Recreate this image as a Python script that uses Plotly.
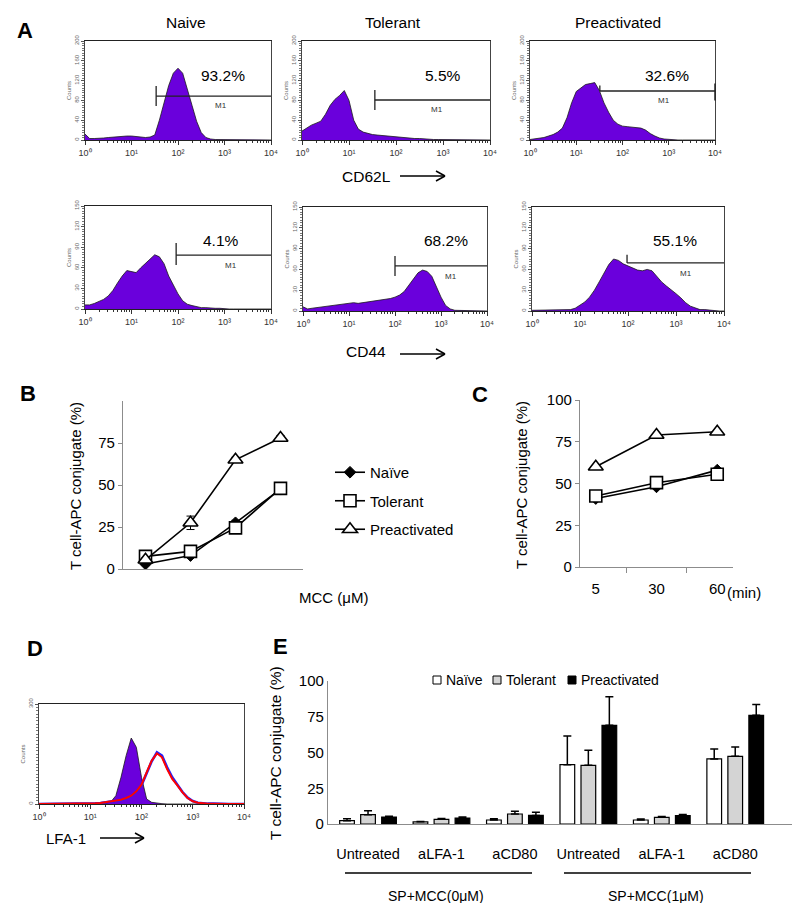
import plotly.graph_objects as go

W, H = 800, 903
FONT = "Arial, Liberation Sans, sans-serif"

# ---------------- data ----------------
# fluorescence intensity grid of the cytometry histograms (log10 steps of 0.1)
FL = [1.0, 1.26, 1.58, 2.0, 2.51, 3.16, 3.98, 5.01, 6.31, 7.94,
      10.0, 12.6, 15.8, 20.0, 25.1, 31.6, 39.8, 50.1, 63.1, 79.4,
      100, 126, 158, 200, 251, 316, 398, 501, 631, 794,
      1000, 1259, 1585, 1995, 2512, 3162, 3981, 5012, 6310, 7943, 10000]

CD62L_NAIVE = [12, 3, 3, 3, 4, 5, 6, 6, 7, 8, 8, 7, 6, 5, 6, 10, 40, 75, 110, 135,
               145, 135, 105, 70, 38, 15, 5, 2, 1, 1, 1, 0, 0, 0, 0, 0, 0, 0, 0, 0, 0]
CD62L_TOL = [18, 25, 30, 34, 38, 52, 70, 82, 90, 100, 80, 40, 22, 16, 13, 11, 10, 9, 8, 7,
             6, 5, 5, 4, 3, 3, 2, 2, 1, 1, 1, 1, 0, 0, 0, 0, 0, 0, 0, 0, 0]
CD62L_PRE = [1, 2, 3, 5, 8, 11, 16, 24, 45, 75, 98, 106, 112, 114, 116, 100, 75, 56, 40, 32,
             28, 27, 26, 24, 24, 20, 13, 8, 4, 2, 1, 1, 0, 0, 0, 0, 0, 0, 0, 0, 0]
CD44_NAIVE = [6, 6, 8, 11, 14, 19, 27, 38, 48, 56, 54, 53, 60, 66, 72, 79, 76, 66, 48, 34,
              22, 12, 7, 5, 3, 2, 2, 1, 1, 1, 0, 0, 0, 0, 0, 0, 0, 0, 0, 0, 0]
CD44_TOL = [6, 3, 4, 5, 6, 7, 8, 9, 10, 11, 12, 12, 11, 12, 13, 14, 15, 15, 16, 18,
            20, 23, 28, 37, 47, 55, 59, 57, 50, 35, 20, 8, 3, 1, 1, 0, 0, 0, 0, 0, 0]
CD44_PRE = [1, 1, 1, 1, 1, 1, 2, 2, 2, 4, 8, 13, 20, 30, 42, 55, 67, 75, 73, 68,
            65, 61, 59, 58, 60, 58, 50, 42, 36, 31, 25, 19, 12, 7, 4, 2, 2, 1, 1, 0, 0]
LFA1_ISO = [0, 0, 0, 0, 0, 0, 0, 0, 0, 0, 0, 0, 0, 2, 6, 25, 80, 145, 198, 170,
            80, 15, 5, 2, 1, 0, 0, 0, 0, 0, 0, 0, 0, 0, 0, 0, 0, 0, 0, 0, 0]
LFA1_BLUE = [0, 0, 0, 0, 0, 0, 0, 0, 0, 0, 1, 2, 3, 5, 7, 10, 12, 17, 24, 37,
             56, 92, 128, 155, 145, 110, 80, 58, 36, 19, 9, 4, 2, 1, 1, 0, 0, 0, 0, 0, 0]
LFA1_RED = [0, 0, 0, 0, 0, 0, 0, 0, 0, 0, 1, 2, 3, 5, 7, 10, 13, 18, 25, 38,
            58, 95, 130, 152, 140, 105, 75, 56, 35, 18, 8, 4, 2, 1, 1, 0, 0, 0, 0, 0, 0]

LOG_TICKS = [1, 10, 100, 1000, 10000]
LOG_TICK_TEXT = ["10⁰", "10¹", "10²", "10³", "10⁴"]

HIST_TITLES = ["Naive", "Tolerant", "Preactivated"]
PCT_CD62L = ["93.2%", "5.5%", "32.6%"]
PCT_CD44 = ["4.1%", "68.2%", "55.1%"]

# panel B: conjugates vs MCC dose (dose levels 1..4, concentrations not labelled)
MCC_LEVEL = [1, 2, 3, 4]
B_NAIVE = [3, 8, 27.5, 47.5]
B_NAIVE_ERR = [1, 1, 1.5, 2]
B_TOL = [7.5, 10.5, 24.5, 48]
B_TOL_ERR = [1, 1, 1.5, 2]
B_PRE = [5.5, 27.5, 65, 78]
B_PRE_ERR = [1, 4, 1.5, 1.5]

# panel C: conjugates vs time
TIME_MIN = ["5", "30", "60"]
C_NAIVE = [41, 48, 58]
C_TOL = [42.5, 50.5, 55.5]
C_PRE = [60, 79, 81]

# panel E
E_GROUPS = ["Untreated", "aLFA-1", "aCD80", "Untreated", "aLFA-1", "aCD80"]
E_POS = [0, 1, 2, 3, 4, 5]
E_NAIVE = [2.3, 1.5, 2.8, 41.5, 2.8, 45.5]
E_NAIVE_ERR = [1.4, 0.3, 0.8, 20, 0.7, 7]
E_TOL = [6.5, 3.3, 7, 41, 4.7, 47.3]
E_TOL_ERR = [2.8, 0.6, 2, 10.5, 0.6, 6.5]
E_PRE = [4.9, 4.2, 6, 69, 5.8, 76]
E_PRE_ERR = [0.5, 0.7, 2.2, 20, 0.8, 7.5]
E_NOERR = [0, 0, 0, 0, 0, 0]

# ---------------- helpers ----------------
def px(x):
    return x / W


def py(y):
    return 1 - y / H


PURPLE = "#6a00dc"
MINOR_LOG = [m * 10 ** d for d in range(4) for m in range(2, 10)]

fig = go.Figure()
layout = dict(width=W, height=H, margin=dict(l=0, r=0, t=0, b=0, autoexpand=False),
              paper_bgcolor="white", plot_bgcolor="white",
              font=dict(family=FONT, color="black"),
              bargap=0.142, bargroupgap=0.3)
annotations = []
shapes = []


def ann(text, x, y, size=15, color="black", **kw):
    d = dict(text=text, x=px(x), y=py(y), xref="paper", yref="paper",
             showarrow=False, font=dict(size=size, family=FONT, color=color),
             xanchor="center", yanchor="middle")
    d.update(kw)
    annotations.append(d)


def line(x0, y0, x1, y1, width=1.3, color="black"):
    shapes.append(dict(type="line", xref="paper", yref="paper",
                       x0=px(x0), y0=py(y0), x1=px(x1), y1=py(y1),
                       line=dict(color=color, width=width)))


def arrow(x0, x1, y):
    line(x0, y, x1, y, 1.5)
    line(x1 - 9, y - 5, x1, y, 1.5)
    line(x1 - 9, y + 5, x1, y, 1.5)


def log_xaxis(x0, x1, anchor):
    return dict(
        type="log", range=[0, 4], domain=[px(x0), px(x1)], anchor=anchor,
        showline=True, mirror=True, linecolor="#222", linewidth=1.2, automargin=False,
        ticks="outside", ticklen=4, tickcolor="#333",
        tickvals=LOG_TICKS, ticktext=LOG_TICK_TEXT,
        tickfont=dict(size=9, color="#333"),
        minor=dict(tickvals=MINOR_LOG, ticks="outside", ticklen=2, tickcolor="#333"),
        showgrid=False, zeroline=False, fixedrange=True)


def count_yaxis(y0, y1, anchor, ymax, yticks, yminor):
    return dict(
        range=[0, ymax], domain=[py(y1), py(y0)], anchor=anchor,
        showline=True, mirror=True, linecolor="#444", linewidth=1, automargin=False,
        ticks="outside", ticklen=3, tickcolor="#555", tickvals=yticks, tickangle=-90,
        tickfont=dict(size=6, color="#666"),
        title=dict(text="Counts", font=dict(size=6, color="#666"), standoff=1),
        minor=dict(dtick=yminor, ticks="outside", ticklen=2, tickcolor="#777"),
        showgrid=False, zeroline=False, fixedrange=True)


def axref(i):
    return ("x" if i == 1 else "x%d" % i), ("y" if i == 1 else "y%d" % i)


# ---------------- panel A ----------------
HIST = [
    (CD62L_NAIVE, 77, 263, 33, 132, 200),
    (CD62L_TOL, 294, 482, 33, 132, 200),
    (CD62L_PRE, 522, 707, 33, 132, 200),
    (CD44_NAIVE, 77, 263, 198, 301, 150),
    (CD44_TOL, 295, 479, 199, 303, 150),
    (CD44_PRE, 524, 716, 199, 303, 150),
]
for k, (counts, x0, x1, y0, y1, ymax) in enumerate(HIST, start=1):
    yt = [0, 40, 80, 120, 160, 200] if ymax == 200 else [0, 30, 60, 90, 120, 150]
    xa, ya = axref(k)
    suffix = "" if k == 1 else str(k)
    layout["xaxis" + suffix] = log_xaxis(x0, x1, ya)
    layout["yaxis" + suffix] = count_yaxis(y0, y1, xa, ymax, yt, ymax / 40)
    fig.add_trace(go.Scatter(x=FL, y=counts, xaxis=xa, yaxis=ya, mode="lines",
                             fill="tozeroy", fillcolor=PURPLE,
                             line=dict(color="#1a1a1a", width=0.8),
                             showlegend=False, hoverinfo="skip"))

# gates (log position of gate start, y fraction, left tick span, optional right tick span)
GATES = [
    (1, 1.53, 0.444, (0.343, 0.545), None),
    (2, 1.55, 0.404, (0.303, 0.505), None),
    (3, 1.51, 0.495, (0.495, 0.55), (0.40, 0.57)),
    (4, 1.96, 0.524, (0.427, 0.64), None),
    (5, 2.00, 0.433, (0.337, 0.529), None),
    (6, 1.98, 0.462, (0.462, 0.54), None),
]
for k, lg, yf, lt, rt in GATES:
    xa, ya = axref(k)
    xr, yr = xa + " domain", ya + " domain"
    shapes.append(dict(type="line", xref=xr, yref=yr, x0=lg / 4, x1=1, y0=yf, y1=yf,
                       line=dict(color="#222", width=1.3)))
    shapes.append(dict(type="line", xref=xr, yref=yr, x0=lg / 4, x1=lg / 4, y0=lt[0], y1=lt[1],
                       line=dict(color="#222", width=1.3)))
    if rt:
        shapes.append(dict(type="line", xref=xr, yref=yr, x0=1, x1=1, y0=rt[0], y1=rt[1],
                           line=dict(color="#222", width=1.5)))

for t, xc in zip(HIST_TITLES, [178, 385, 610]):
    ann(t, xc, 14, 15.5)
for t, (xc, yc) in zip(PCT_CD62L, [(215, 68), (435, 68), (659, 67)]):
    ann(t, xc, yc, 15.5)
for t, (xc, yc) in zip(PCT_CD44, [(213, 233), (438, 233), (667, 233)]):
    ann(t, xc, yc, 15.5)
for (xc, yc) in [(213, 98), (429, 102), (656, 92), (223, 257), (443, 268), (678, 265)]:
    ann("M1", xc, yc, 8, color="#333")

ann("CD62L", 358, 168, 15.5)
arrow(392, 437, 168)
ann("CD44", 358, 343, 15.5)
arrow(392, 437, 346)

ann("<b>A</b>", 17, 22, 22)
ann("<b>B</b>", 20, 385, 22)
ann("<b>C</b>", 472, 386, 22)
ann("<b>D</b>", 27, 640, 22)
ann("<b>E</b>", 272, 638, 22)

# ---------------- panel B ----------------
GRAY_AX = "#8c8c8c"
layout["xaxis7"] = dict(domain=[px(115), px(295)], anchor="y7", range=[0.5, 4.5], automargin=False,
                        showline=True, linecolor=GRAY_AX, linewidth=1.2, ticks="",
                        showticklabels=False, showgrid=False, zeroline=False)
layout["yaxis7"] = dict(domain=[py(561), py(393)], anchor="x7", range=[0, 100], automargin=False,
                        tickvals=[0, 25, 50, 75], showline=True, linecolor=GRAY_AX, linewidth=1.2,
                        ticks="outside", ticklen=4, tickcolor=GRAY_AX,
                        tickfont=dict(size=15), showgrid=False, zeroline=False)

SERIES_STYLE = {
    "Naïve": dict(symbol="diamond", size=9, color="black", line=dict(color="black", width=1)),
    "Tolerant": dict(symbol="square", size=12, color="white", line=dict(color="black", width=1.6)),
    "Preactivated": dict(symbol="triangle-up", size=13, color="white", line=dict(color="black", width=1.6)),
}
for name, ys, err in [("Naïve", B_NAIVE, B_NAIVE_ERR), ("Tolerant", B_TOL, B_TOL_ERR),
                      ("Preactivated", B_PRE, B_PRE_ERR)]:
    fig.add_trace(go.Scatter(x=MCC_LEVEL, y=ys, xaxis="x7", yaxis="y7", mode="lines+markers",
                             name=name, legendgroup=name,
                             line=dict(color="black", width=1.6), marker=SERIES_STYLE[name],
                             error_y=dict(type="data", array=err, visible=True, color="black",
                                          thickness=1, width=4)))

ann("T cell-APC conjugate (%)", 67, 478, 15, textangle=-90)
ann("MCC (μM)", 325, 589, 15)

layout["legend"] = dict(x=px(322), y=py(448), xanchor="left", yanchor="top",
                        font=dict(size=15, family=FONT), bgcolor="rgba(0,0,0,0)",
                        tracegroupgap=6, itemsizing="trace")

# ---------------- panel C ----------------
layout["xaxis8"] = dict(domain=[px(572), px(725)], anchor="y8", type="category", automargin=False,
                        categoryorder="array", categoryarray=TIME_MIN,
                        showline=True, linecolor=GRAY_AX, linewidth=1.2,
                        ticks="outside", tickson="boundaries", ticklen=5, tickcolor=GRAY_AX,
                        tickfont=dict(size=15), ticklabelstandoff=8,
                        showgrid=False, zeroline=False)
layout["yaxis8"] = dict(domain=[py(559), py(392)], anchor="x8", range=[0, 100], automargin=False,
                        tickvals=[0, 25, 50, 75, 100], showline=True, linecolor=GRAY_AX,
                        linewidth=1.2, ticks="outside", ticklen=4, tickcolor=GRAY_AX,
                        tickfont=dict(size=15), showgrid=False, zeroline=False)
for name, ys in [("Naïve", C_NAIVE), ("Tolerant", C_TOL), ("Preactivated", C_PRE)]:
    fig.add_trace(go.Scatter(x=TIME_MIN, y=ys, xaxis="x8", yaxis="y8", mode="lines+markers",
                             name=name, showlegend=False,
                             line=dict(color="black", width=1.6), marker=SERIES_STYLE[name]))
ann("T cell-APC conjugate (%)", 513, 477, 15, textangle=-90)
ann("(min)", 736, 584, 15)

# ---------------- panel D ----------------
layout["xaxis9"] = log_xaxis(31, 236, "y9")
layout["yaxis9"] = count_yaxis(696, 796, "x9", 300, [0, 300], 10)
fig.add_trace(go.Scatter(x=FL, y=LFA1_ISO, xaxis="x9", yaxis="y9", mode="lines",
                         fill="tozeroy", fillcolor=PURPLE, line=dict(color="#1a1a1a", width=0.8),
                         showlegend=False, hoverinfo="skip"))
fig.add_trace(go.Scatter(x=FL, y=LFA1_BLUE, xaxis="x9", yaxis="y9", mode="lines",
                         line=dict(color="#2020ff", width=2.6), showlegend=False, hoverinfo="skip"))
fig.add_trace(go.Scatter(x=FL, y=LFA1_RED, xaxis="x9", yaxis="y9", mode="lines",
                         line=dict(color="#ff0000", width=2), showlegend=False, hoverinfo="skip"))
ann("LFA-1", 58, 830, 15)
arrow(92, 136, 830)

# ---------------- panel E ----------------
layout["xaxis10"] = dict(domain=[px(320), px(797)], anchor="y10", range=[-0.545, 5.95], automargin=False,
                         tickvals=E_POS, ticktext=E_GROUPS, ticks="", ticklabelstandoff=16,
                         tickfont=dict(size=14.5), showline=True, linecolor=GRAY_AX, linewidth=1.2,
                         showgrid=False, zeroline=False)
layout["yaxis10"] = dict(domain=[py(816), py(673)], anchor="x10", range=[0, 100], automargin=False,
                         tickvals=[0, 25, 50, 75, 100], showline=True, linecolor=GRAY_AX,
                         linewidth=1.2, ticks="", tickfont=dict(size=15),
                         showgrid=False, zeroline=False)
E_COLORS = {"Naïve": "white", "Tolerant": "#d4d4d4", "Preactivated": "black"}
for name, ys, err in [("Naïve", E_NAIVE, E_NAIVE_ERR), ("Tolerant", E_TOL, E_TOL_ERR),
                      ("Preactivated", E_PRE, E_PRE_ERR)]:
    fig.add_trace(go.Bar(x=E_POS, y=ys, xaxis="x10", yaxis="y10", name=name, showlegend=False,
                         marker=dict(color=E_COLORS[name], line=dict(color="black", width=1.2)),
                         error_y=dict(type="data", symmetric=False, array=err, arrayminus=E_NOERR,
                                      color="black", thickness=1.5, width=4)))
ann("T cell-APC conjugate (%)", 267, 745, 15.5, textangle=-90)

# manual legend of panel E
for (sx, name) in [(425, "Naïve"), (485, "Tolerant"), (560, "Preactivated")]:
    shapes.append(dict(type="rect", xref="paper", yref="paper",
                       x0=px(sx), x1=px(sx + 8), y0=py(676), y1=py(668),
                       fillcolor=E_COLORS[name], line=dict(color="black", width=1)))
    ann(name, sx + 11, 672, 14, xanchor="left")

line(337, 865, 524, 865, 1.3)
line(556, 865, 743, 865, 1.3)
ann("SP+MCC(0μM)", 428, 888, 14)
ann("SP+MCC(1μM)", 648, 888, 14)

layout["annotations"] = annotations
layout["shapes"] = shapes
fig.update_layout(**layout)
fig.write_html("out.html")
